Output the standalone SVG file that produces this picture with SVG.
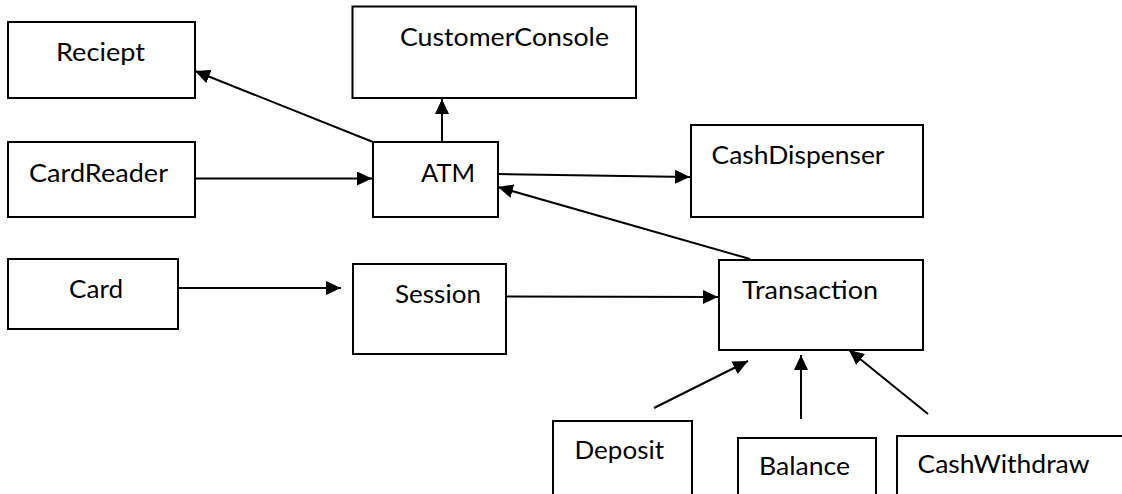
<svg xmlns="http://www.w3.org/2000/svg" width="1122" height="494" viewBox="0 0 1122 494">
<style>
.box{fill:#fff;stroke:#000;stroke-width:2}
.lbl{font-family:Lato,"Liberation Sans",sans-serif;font-size:25px;fill:#000}
.conn{stroke:#000;stroke-width:2;fill:none;marker-end:url(#arr)}
</style>
<defs>
<marker id="arr" markerUnits="userSpaceOnUse" markerWidth="16" markerHeight="14" refX="15" refY="7" orient="auto">
<path d="M0,0 L15,7 L0,14 z" fill="#000"/>
</marker>
</defs>
<rect width="1122" height="494" fill="#fff"/>
<g id="reciept"><rect class="box" x="8" y="22" width="187" height="76"/><text class="lbl" x="56" y="61" textLength="89" lengthAdjust="spacingAndGlyphs">Reciept</text></g>
<g id="customerconsole"><rect class="box" x="352.5" y="6.5" width="283.5" height="91.5"/><text class="lbl" x="400" y="46" textLength="209" lengthAdjust="spacingAndGlyphs">CustomerConsole</text></g>
<g id="cardreader"><rect class="box" x="8" y="142" width="187" height="75"/><text class="lbl" x="29" y="182" textLength="139" lengthAdjust="spacingAndGlyphs">CardReader</text></g>
<g id="atm"><rect class="box" x="373" y="142" width="125" height="75"/><text class="lbl" x="421" y="182" textLength="54" lengthAdjust="spacingAndGlyphs">ATM</text></g>
<g id="cashdispenser"><rect class="box" x="691" y="125" width="232" height="92"/><text class="lbl" x="711.5" y="164" textLength="173" lengthAdjust="spacingAndGlyphs">CashDispenser</text></g>
<g id="card"><rect class="box" x="8" y="259" width="170" height="70"/><text class="lbl" x="69" y="298" textLength="54" lengthAdjust="spacingAndGlyphs">Card</text></g>
<g id="session"><rect class="box" x="353" y="264" width="153" height="90"/><text class="lbl" x="395" y="303" textLength="86" lengthAdjust="spacingAndGlyphs">Session</text></g>
<g id="transaction"><rect class="box" x="719" y="260" width="204" height="90"/><text class="lbl" x="742" y="299" textLength="136" lengthAdjust="spacingAndGlyphs">Transaction</text></g>
<g id="deposit"><rect class="box" x="553" y="421" width="139" height="90"/><text class="lbl" x="574.5" y="459" textLength="89.5" lengthAdjust="spacingAndGlyphs">Deposit</text></g>
<g id="balance"><rect class="box" x="738" y="438" width="138" height="90"/><text class="lbl" x="759" y="475" textLength="91" lengthAdjust="spacingAndGlyphs">Balance</text></g>
<g id="cashwithdraw"><rect class="box" x="897" y="436" width="240" height="90"/><text class="lbl" x="917.5" y="473" textLength="172" lengthAdjust="spacingAndGlyphs">CashWithdraw</text></g>
<g id="connectors">
<line class="conn" x1="373" y1="142" x2="195" y2="71"/>
<line class="conn" x1="442" y1="142" x2="442" y2="99"/>
<line class="conn" x1="195" y1="178.5" x2="372" y2="178.5"/>
<line class="conn" x1="498" y1="174" x2="690" y2="177"/>
<line class="conn" x1="750" y1="259" x2="498" y2="187"/>
<line class="conn" x1="178" y1="288" x2="341" y2="288"/>
<line class="conn" x1="506" y1="296.5" x2="718" y2="297"/>
<line class="conn" x1="654" y1="408" x2="748" y2="361"/>
<line class="conn" x1="801" y1="419" x2="801" y2="355"/>
<line class="conn" x1="928" y1="414" x2="849" y2="350"/>
</g>
</svg>
